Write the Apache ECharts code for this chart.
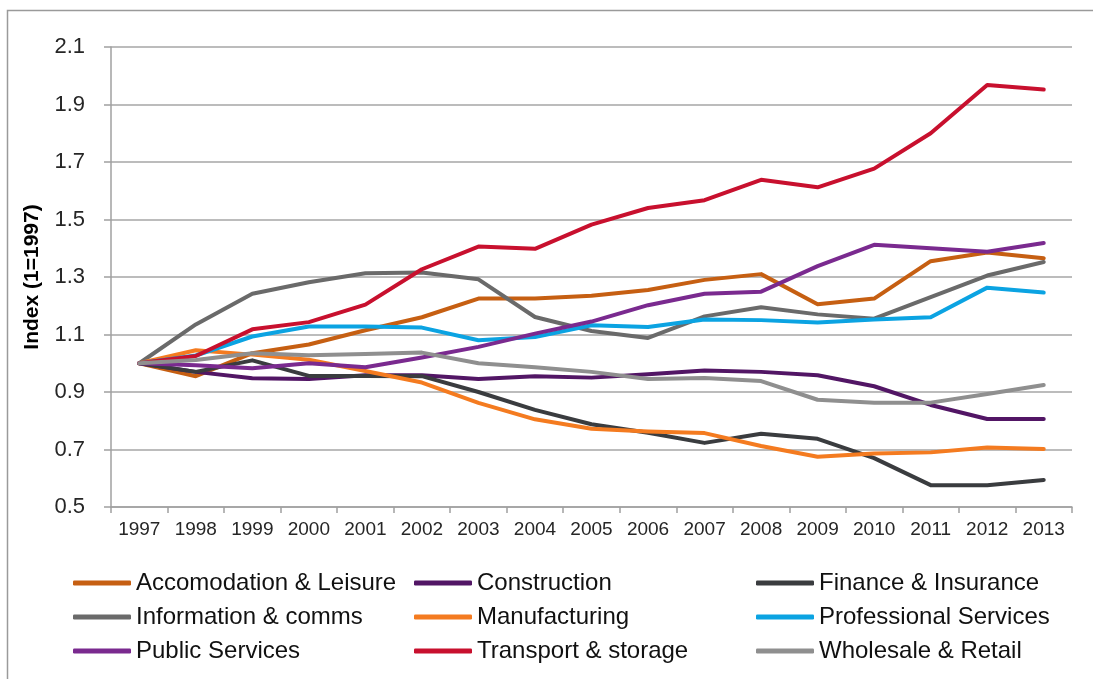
<!DOCTYPE html>
<html style="height:100%">
<head>
<meta charset="utf-8">
<script src="https://cdn.jsdelivr.net/npm/echarts@6/dist/echarts.min.js"></script>
</head>
<body style="height:100%; margin:0; background:#fff">
<div id="container" style="width:1093px; height:679px"></div>
<script type="text/javascript">
var years = ['1997','1998','1999','2000','2001','2002','2003','2004','2005','2006','2007','2008','2009','2010','2011','2012','2013'];

var accomodation  = [1.00, 0.955, 1.035, 1.065, 1.115, 1.16, 1.225, 1.225, 1.235, 1.255, 1.29, 1.31, 1.205, 1.225, 1.355, 1.385, 1.365];
var construction  = [1.00, 0.97, 0.948, 0.945, 0.958, 0.958, 0.945, 0.955, 0.95, 0.962, 0.975, 0.97, 0.958, 0.92, 0.855, 0.806, 0.806];
var finance       = [1.00, 0.97, 1.01, 0.956, 0.956, 0.955, 0.90, 0.838, 0.788, 0.758, 0.723, 0.755, 0.737, 0.67, 0.576, 0.576, 0.594];
var information   = [1.00, 1.135, 1.242, 1.282, 1.313, 1.316, 1.292, 1.161, 1.112, 1.088, 1.163, 1.195, 1.17, 1.155, 1.23, 1.305, 1.352];
var manufacturing = [1.00, 1.045, 1.03, 1.012, 0.973, 0.933, 0.862, 0.805, 0.772, 0.763, 0.757, 0.712, 0.675, 0.686, 0.69, 0.707, 0.702];
var professional  = [1.00, 1.027, 1.093, 1.128, 1.128, 1.124, 1.08, 1.091, 1.132, 1.126, 1.152, 1.15, 1.142, 1.152, 1.16, 1.263, 1.246];
var publicServ    = [1.00, 0.993, 0.983, 1.00, 0.986, 1.02, 1.057, 1.103, 1.145, 1.202, 1.242, 1.249, 1.338, 1.412, 1.4, 1.388, 1.418];
var transport     = [1.00, 1.025, 1.118, 1.143, 1.204, 1.327, 1.406, 1.398, 1.482, 1.54, 1.567, 1.638, 1.612, 1.677, 1.8, 1.968, 1.952];
var wholesale     = [1.00, 1.011, 1.035, 1.028, 1.032, 1.037, 1.0, 0.986, 0.97, 0.945, 0.949, 0.938, 0.873, 0.863, 0.863, 0.893, 0.924];

var names = ['Accomodation & Leisure','Construction','Finance & Insurance','Information & comms','Manufacturing','Professional Services','Public Services','Transport & storage','Wholesale & Retail'];
var values = [accomodation, construction, finance, information, manufacturing, professional, publicServ, transport, wholesale];
var colors = ['#C65F12','#521665','#3A3C3F','#6A6A6A','#F47B20','#0BA3E2','#7A2A8F','#C8102E','#8F8F8F'];

var dom = document.getElementById('container');
var myChart = echarts.init(dom);

var series = [];
for (var i = 0; i < names.length; i++) {
    series.push({
        name: names[i],
        type: 'line',
        data: values[i],
        symbol: 'none',
        lineStyle: { width: 4, color: colors[i], cap: 'round', join: 'round' },
        itemStyle: { color: colors[i] }
    });
}

var legendText = { fontFamily: 'Liberation Sans', fontSize: 24, color: '#111', lineHeight: 24 };
function legendCol(left, items) {
    return {
        left: left, top: 571, orient: 'vertical', padding: 0,
        itemWidth: 58, itemHeight: 5, itemGap: 10, icon: 'roundRect',
        textStyle: legendText,
        data: items
    };
}

var option = {
    animation: false,
    color: colors,
    // chart frame: only the left and top edges are inside the picture
    graphic: [{
        type: 'polyline',
        shape: { points: [[7.5, 700], [7.5, 10.5], [1100, 10.5]] },
        style: { fill: 'none', stroke: '#9a9a9a', lineWidth: 1.5 }
    }],
    grid: { left: 111, right: 21, top: 47, bottom: 172 },
    legend: [
        legendCol(73, [names[0], names[3], names[6]]),
        legendCol(414, [names[1], names[4], names[7]]),
        legendCol(756, [names[2], names[5], names[8]])
    ],
    xAxis: {
        type: 'category',
        data: years,
        boundaryGap: true,
        axisLine: { lineStyle: { color: '#a0a0a0', width: 1.5 } },
        axisTick: { show: true, length: 6, interval: 0, lineStyle: { color: '#a0a0a0', width: 1.5 } },
        axisLabel: { interval: 0, margin: 13, fontFamily: 'Liberation Sans', fontSize: 19, color: '#262626' }
    },
    yAxis: {
        type: 'value',
        min: 0.5, max: 2.1, interval: 0.2,
        name: 'Index (1=1997)',
        nameLocation: 'middle',
        nameGap: 68,
        nameTextStyle: { fontFamily: 'Liberation Sans', fontSize: 21, fontWeight: 'bold', color: '#000' },
        axisLine: { show: true, lineStyle: { color: '#a0a0a0', width: 1.5 } },
        axisTick: { show: true, length: 7, lineStyle: { color: '#a0a0a0', width: 1.5 } },
        splitLine: { lineStyle: { color: '#a6a6a6', width: 1.5 } },
        axisLabel: {
            margin: 26, fontFamily: 'Liberation Sans', fontSize: 22, color: '#262626',
            formatter: function (v) { return v.toFixed(1); }
        }
    },
    series: series
};

myChart.setOption(option);
</script>
</body>
</html>
